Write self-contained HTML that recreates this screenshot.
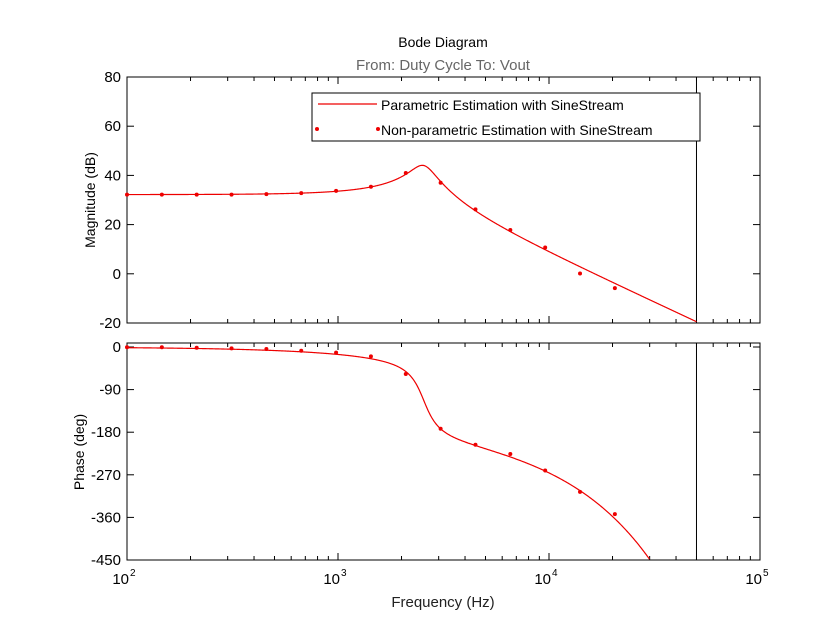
<!DOCTYPE html>
<html><head><meta charset="utf-8"><style>
body{margin:0;background:#fff}
svg{display:block;font-family:"Liberation Sans",sans-serif}
</style></head><body>
<svg id="s" width="840" height="630" viewBox="0 0 840 630" xmlns="http://www.w3.org/2000/svg">
<rect width="840" height="630" fill="#fff"/>
<text x="443" y="47" font-size="14" text-anchor="middle" fill="#000">Bode Diagram</text>
<text x="443" y="70" font-size="15" text-anchor="middle" fill="#666">From: Duty Cycle  To: Vout</text>
<text x="443" y="607" font-size="15" text-anchor="middle" fill="#222">Frequency  (Hz)</text>
<text transform="translate(95,200) rotate(-90)" font-size="14" text-anchor="middle">Magnitude (dB)</text>
<text transform="translate(84,452) rotate(-90)" font-size="14" text-anchor="middle">Phase (deg)</text>
<g id="g"></g>
</svg>
<script>
const NS="http://www.w3.org/2000/svg",g=document.getElementById('g');
function el(t,a,txt){const e=document.createElementNS(NS,t);for(const k in a)e.setAttribute(k,a[k]);if(txt!=null)e.textContent=txt;g.appendChild(e);return e;}
const X0=127,X1=760,D=211;
const fx=f=>X0+(Math.log10(f)-2)*D;
const T1=77,B1=323,T2=343,B2=560;
const my=d=>T1+(80-d)*(B1-T1)/100;
const py=p=>347-p*42.6/90;
const f0=2550,Q=3.9,K=32.2,tau=25e-6;
function H(f){const r=f/f0;const re=1-r*r,im=r/Q;const mag=K-10*Math.log10(re*re+im*im);const ph=-Math.atan2(im,re)*180/Math.PI-360*f*tau;return[mag,ph];}
let pm="",pp="";
for(let i=0;i<=800;i++){const lf=2+i*(Math.log10(5e4)-2)/800,f=Math.pow(10,lf);const[m,p]=H(f);const x=fx(f);
 pm+=(i?"L":"M")+x.toFixed(2)+" "+my(m).toFixed(2);
 if(p>=-450)pp+=(pp?"L":"M")+x.toFixed(2)+" "+py(p).toFixed(2);}
el('defs',{}).innerHTML='<clipPath id="c1"><rect x="127" y="77" width="633" height="246"/></clipPath><clipPath id="c2"><rect x="127" y="343" width="633" height="217"/></clipPath>';
[[T1,B1],[T2,B2]].forEach(([t,b])=>{
 el('rect',{x:X0,y:t,width:X1-X0,height:b-t,fill:'none',stroke:'#000','stroke-width':1});
 for(let d=2;d<=5;d++){for(let k=1;k<=9;k++){if(d==5&&k>1)break;const x=fx(k*Math.pow(10,d));const L=k==1?7:4;
  el('line',{x1:x,y1:b,x2:x,y2:b-L,stroke:'#000','stroke-width':1});el('line',{x1:x,y1:t,x2:x,y2:t+L,stroke:'#000','stroke-width':1});}}
 el('line',{x1:fx(5e4),y1:t,x2:fx(5e4),y2:b,stroke:'#000','stroke-width':1});
});
for(let d=-20;d<=80;d+=20){const y=my(d);el('line',{x1:X0,y1:y,x2:X0+7,y2:y,stroke:'#000'});el('line',{x1:X1,y1:y,x2:X1-7,y2:y,stroke:'#000'});
 el('text',{x:X0-6,y:y+5,'font-size':15,'text-anchor':'end'},String(d));}
for(let p=0;p>=-450;p-=90){const y=py(p);el('line',{x1:X0,y1:y,x2:X0+7,y2:y,stroke:'#000'});el('line',{x1:X1,y1:y,x2:X1-7,y2:y,stroke:'#000'});
 el('text',{x:X0-6,y:y+5,'font-size':15,'text-anchor':'end'},String(p));}
for(let d=2;d<=5;d++){const x=fx(Math.pow(10,d));el('text',{x:x+2,y:584,'font-size':15,'text-anchor':'end'},'10');
 el('text',{x:x+3,y:576,'font-size':10,'text-anchor':'start'},String(d));}
el('path',{d:pm,fill:'none',stroke:'#e00','stroke-width':1.2,'clip-path':'url(#c1)'});
el('path',{d:pp,fill:'none',stroke:'#e00','stroke-width':1.2,'clip-path':'url(#c2)'});
const mags=[32.2,32.2,32.2,32.2,32.4,32.8,33.7,35.4,41,37,26.2,17.8,10.7,0.1,-5.8];
const phs=[-0.6,-0.6,-1.5,-2.8,-4.2,-7.8,-12,-19.7,-57,-172.7,-206.5,-226,-261,-306,-353];
for(let i=0;i<15;i++){const f=100*Math.pow(1.4627,i);const x=fx(f);
 el('circle',{cx:x,cy:my(mags[i]),r:2,fill:'#e00'});el('circle',{cx:x,cy:py(phs[i]),r:2,fill:'#e00'});}
el('rect',{x:312,y:93,width:388,height:48,fill:'#fff',stroke:'#000','stroke-width':1});
el('line',{x1:318,y1:104,x2:377,y2:104,stroke:'#e00','stroke-width':1.2});
el('text',{x:381,y:110,'font-size':14},'Parametric Estimation with SineStream');
el('circle',{cx:317,cy:129,r:2,fill:'#e00'});el('circle',{cx:378,cy:129,r:2,fill:'#e00'});
el('text',{x:381,y:135,'font-size':14},'Non-parametric Estimation with SineStream');
</script>
</body></html>
